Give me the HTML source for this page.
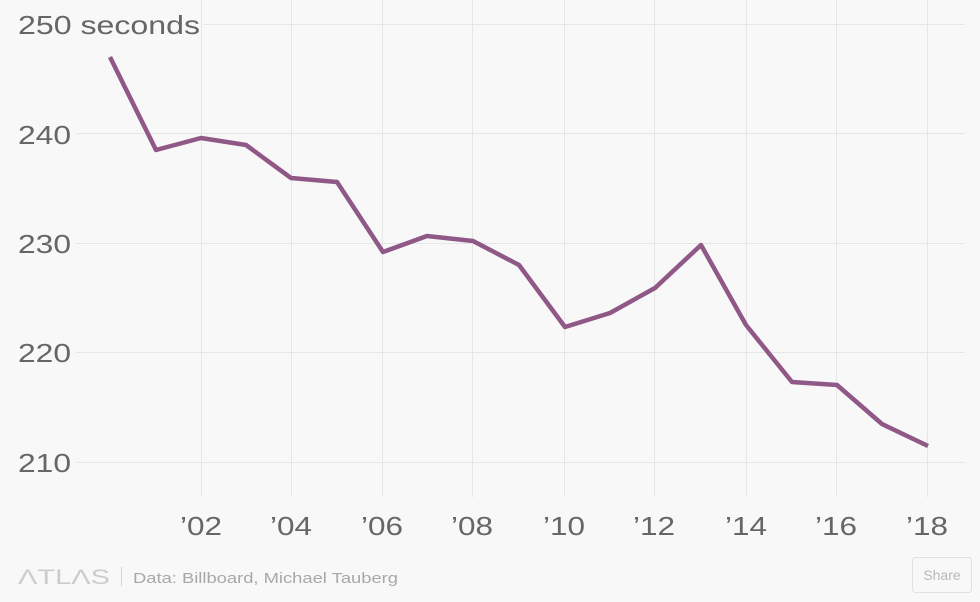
<!DOCTYPE html>
<html>
<head>
<meta charset="utf-8">
<style>
  html, body { margin: 0; padding: 0; }
  body { width: 980px; height: 602px; background: #f8f8f8; overflow: hidden; }
  svg { display: block; }
</style>
</head>
<body>
<svg width="980" height="602" viewBox="0 0 980 602" xmlns="http://www.w3.org/2000/svg">
  <rect x="0" y="0" width="980" height="602" fill="#f8f8f8"/>
  <!-- vertical gridlines -->
  <g stroke="#e6e6e6" stroke-width="1">
    <line x1="201.5" y1="0" x2="201.5" y2="497"/>
    <line x1="291.5" y1="0" x2="291.5" y2="497"/>
    <line x1="382.5" y1="0" x2="382.5" y2="497"/>
    <line x1="472.5" y1="0" x2="472.5" y2="497"/>
    <line x1="564.5" y1="0" x2="564.5" y2="497"/>
    <line x1="654.5" y1="0" x2="654.5" y2="497"/>
    <line x1="746.5" y1="0" x2="746.5" y2="497"/>
    <line x1="836.5" y1="0" x2="836.5" y2="497"/>
    <line x1="927.5" y1="0" x2="927.5" y2="497"/>
  </g>
  <!-- horizontal gridlines -->
  <g stroke="#e6e6e6" stroke-width="1">
    <line x1="203" y1="24.5" x2="965" y2="24.5"/>
    <line x1="76" y1="133.5" x2="965" y2="133.5"/>
    <line x1="76" y1="243.5" x2="965" y2="243.5"/>
    <line x1="76" y1="352.5" x2="965" y2="352.5"/>
    <line x1="76" y1="462.5" x2="965" y2="462.5"/>
  </g>
  <!-- y labels -->
  <g font-family="Liberation Sans, sans-serif" font-size="26" fill="#666666">
    <text x="18" y="34" textLength="182" lengthAdjust="spacingAndGlyphs">250 seconds</text>
    <text x="18" y="144" textLength="53" lengthAdjust="spacingAndGlyphs">240</text>
    <text x="18" y="253" textLength="53" lengthAdjust="spacingAndGlyphs">230</text>
    <text x="18" y="362" textLength="53" lengthAdjust="spacingAndGlyphs">220</text>
    <text x="18" y="472" textLength="53" lengthAdjust="spacingAndGlyphs">210</text>
  </g>
  <!-- x labels -->
  <g font-family="Liberation Sans, sans-serif" font-size="26" fill="#666666">
    <text x="180" y="535" textLength="42" lengthAdjust="spacingAndGlyphs">’02</text>
    <text x="270" y="535" textLength="42" lengthAdjust="spacingAndGlyphs">’04</text>
    <text x="361" y="535" textLength="42" lengthAdjust="spacingAndGlyphs">’06</text>
    <text x="451" y="535" textLength="42" lengthAdjust="spacingAndGlyphs">’08</text>
    <text x="543" y="535" textLength="42" lengthAdjust="spacingAndGlyphs">’10</text>
    <text x="633" y="535" textLength="42" lengthAdjust="spacingAndGlyphs">’12</text>
    <text x="725" y="535" textLength="42" lengthAdjust="spacingAndGlyphs">’14</text>
    <text x="815" y="535" textLength="42" lengthAdjust="spacingAndGlyphs">’16</text>
    <text x="906" y="535" textLength="42" lengthAdjust="spacingAndGlyphs">’18</text>
  </g>
  <!-- data line -->
  <polyline fill="none" stroke="#8f5886" stroke-width="4.5" stroke-linejoin="round" stroke-linecap="butt"
    points="110,57 156,150 201,138 246,145 291,178 337,182 383,252 427,236 473,241 519,265 565,327 610,313 655,288 701,245 746,325 792,382 837,385 882,424 928,446"/>
  <!-- footer -->
  <text x="18" y="584" font-family="Liberation Sans, sans-serif" font-size="21" fill="#cccccc" textLength="92" lengthAdjust="spacingAndGlyphs">ΛTLΛS</text>
  <line x1="121.5" y1="567" x2="121.5" y2="586" stroke="#d4d4d4" stroke-width="1"/>
  <text x="133" y="583" font-family="Liberation Sans, sans-serif" font-size="15" fill="#a8a8a8" textLength="265" lengthAdjust="spacingAndGlyphs">Data:  Billboard, Michael Tauberg</text>
  <rect x="912.5" y="557.5" width="59" height="35" rx="3" ry="3" fill="#f8f8f8" stroke="#e0e0e0" stroke-width="1"/>
  <text x="942" y="580" font-family="Liberation Sans, sans-serif" font-size="14" fill="#b8b8b8" text-anchor="middle">Share</text>
</svg>
</body>
</html>
